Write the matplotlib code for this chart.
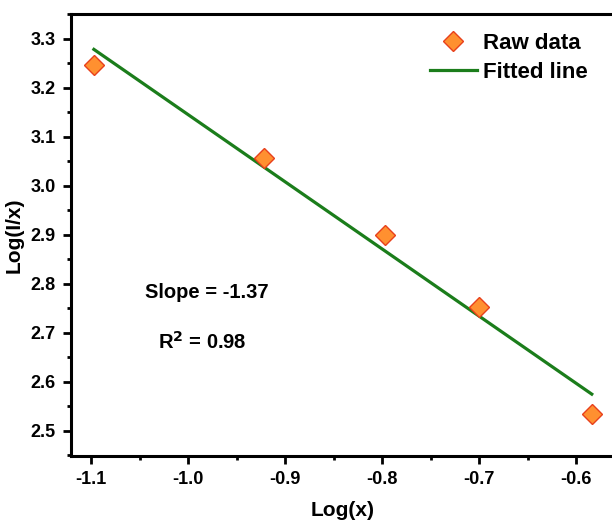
import numpy as np
import matplotlib.pyplot as plt
from matplotlib.ticker import MultipleLocator

# data
log_x = [-1.097, -0.922, -0.797, -0.700, -0.584]
log_ix = [3.247, 3.057, 2.900, 2.752, 2.535]

# fitted line (slope / intercept as shown)
slope = -1.37
intercept = 1.775
fit_x = np.array([log_x[0], log_x[-1]])
fit_y = slope * fit_x + intercept

plt.rcParams['font.family'] = 'Liberation Sans'
plt.rcParams['font.weight'] = 'bold'
plt.rcParams['axes.unicode_minus'] = False

fig = plt.figure(figsize=(6.12, 5.21), dpi=100)
ax = fig.add_axes([0.116, 0.1248, 0.889, 0.8483])

ax.plot(fit_x, fit_y, color='#1b7d1b', lw=2.3, label='Fitted line', zorder=2)
ax.plot(log_x, log_ix, ls='none', marker='D', ms=10, mfc='#ff9030',
        mec='#e8401c', mew=1.0, label='Raw data', zorder=3)

ax.set_xlim(-1.1206, -0.56)
ax.set_ylim(2.449, 3.35)
ax.xaxis.set_major_locator(MultipleLocator(0.1))
ax.xaxis.set_minor_locator(MultipleLocator(0.05))
ax.yaxis.set_major_locator(MultipleLocator(0.1))
ax.yaxis.set_minor_locator(MultipleLocator(0.05))
ax.tick_params(which='major', direction='out', length=6, width=2, labelsize=13, pad=5)
ax.tick_params(which='minor', direction='out', length=3, width=2)
for lab in ax.get_xticklabels() + ax.get_yticklabels():
    lab.set_fontweight('bold')

for sp in ax.spines.values():
    sp.set_linewidth(2.2)

ax.set_xlabel('Log(x)', fontsize=15, fontweight='bold', labelpad=9)
ax.set_ylabel('Log(I/x)', fontsize=15, fontweight='bold', labelpad=5)

ax.text(-0.981, 2.782, 'Slope = -1.37', fontsize=14.5, fontweight='bold',
        ha='center', va='center')
ax.text(-0.985, 2.682, r'R$^\mathbf{2}$ = 0.98', fontsize=14.5, fontweight='bold',
        ha='center', va='center')

handles, labels = ax.get_legend_handles_labels()
leg = ax.legend(handles[::-1], labels[::-1], loc='upper left',
                bbox_to_anchor=(430 / 612, 1 - 33 / 521), bbox_transform=fig.transFigure,
                frameon=False, prop={'weight': 'bold', 'size': 16},
                handlelength=2.1, handletextpad=0.3,
                labelspacing=0.35, borderpad=0, borderaxespad=0)

fig.savefig('out.png', dpi=100)
